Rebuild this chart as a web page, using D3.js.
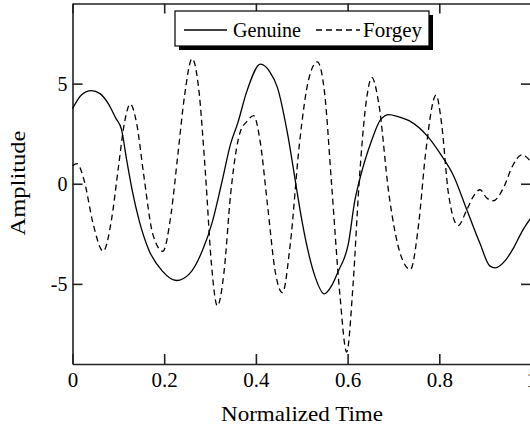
<!DOCTYPE html>
<html>
<head>
<meta charset="utf-8">
<script src="https://cdn.jsdelivr.net/npm/d3@7"></script>
<style>
body { margin: 0; background: #fff; }
svg text { font-family: "Liberation Serif", "DejaVu Serif", serif !important; fill: #000; }
</style>
</head>
<body>
<script>
// size of the page
var w = 530;
var h = 426;
var serif = '"Liberation Serif", "DejaVu Serif", serif';

// data
var genuineT = [0, 0.02, 0.041, 0.06, 0.078, 0.095, 0.107, 0.118, 0.13, 0.145, 0.166, 0.196, 0.227, 0.255,
                0.284, 0.305, 0.325, 0.345, 0.36, 0.38, 0.41, 0.43, 0.447, 0.469, 0.487, 0.497, 0.513,
                0.53, 0.549, 0.565, 0.579, 0.602, 0.616, 0.624, 0.653, 0.672, 0.69, 0.71, 0.734, 0.775,
                0.802, 0.831, 0.86, 0.889, 0.91, 0.922, 0.945, 0.962, 0.98, 1.0];
var genuineV = [3.75, 4.45, 4.65, 4.5, 4.0, 3.25, 2.7, 1.2, -0.3, -1.8, -3.28, -4.36, -4.83, -4.5,
                -3.3, -1.9, 0, 2.0, 3.0, 4.6, 5.97, 5.6, 4.8, 2.5, 0, -1.4, -3.28,
                -4.7, -5.5, -5.1, -4.4, -2.95, -0.8, 0, 2.2, 3.2, 3.45, 3.35, 3.15, 2.35,
                1.5, 0.4, -1.3, -3.0, -4.1, -4.2, -3.8, -3.2, -2.4, -1.7];

var forgeyT = [0, 0.01, 0.025, 0.045, 0.067, 0.085, 0.1, 0.113, 0.126, 0.14, 0.155, 0.175, 0.197, 0.215,
               0.23, 0.245, 0.261, 0.275, 0.29, 0.303, 0.316, 0.33, 0.345, 0.358, 0.366, 0.38, 0.395,
               0.41, 0.425, 0.443, 0.458, 0.475, 0.495, 0.515, 0.534, 0.55, 0.565, 0.583, 0.598, 0.612,
               0.625, 0.64, 0.653, 0.668, 0.69, 0.715, 0.737, 0.755, 0.77, 0.793, 0.805, 0.82, 0.841,
               0.86, 0.875, 0.889, 0.903, 0.918, 0.94, 0.96, 0.98, 1.0];
var forgeyV = [0.9, 1.0, 0.2, -2.0, -3.37, -1.8, 0.8, 3.0, 3.98, 3.0, 0.5, -2.5, -3.37, -1.5,
               1.5, 4.5, 6.25, 4.8, 0.5, -4.0, -6.1, -4.5, -0.5, 1.8, 2.6, 3.1, 3.4,
               2.0, -1.0, -4.5, -5.44, -3.0, 2.0, 5.2, 6.09, 4.5, 0, -5.5, -8.4, -5.0,
               0, 4.0, 5.3, 4.0, -0.5, -3.5, -4.28, -2.0, 1.5, 4.43, 3.0, -0.5, -2.09,
               -1.3, -0.6, -0.3, -0.7, -0.85, -0.2, 0.9, 1.44, 1.1];

var xTicks = [0, 0.2, 0.4, 0.6, 0.8, 1];
var yTicks = [-5, 0, 5];

var svg = d3.select('body')
    .append('svg')
    .attr('width', w)
    .attr('height', h)
    .attr('font-family', serif);

var x = d3.scaleLinear()
    .domain([0, 1])
    .range([72.5, 531]);

var y = d3.scaleLinear()
    .domain([-9, 9])
    .range([364, 3.5]);

// axes, ticks point inward
var bottom = svg.append('g')
    .attr('transform', 'translate(0,' + y(-9) + ')')
    .call(d3.axisBottom(x).tickValues(xTicks).tickSize(-10).tickSizeOuter(0)
        .tickPadding(8).tickFormat(d => String(d)));

var top = svg.append('g')
    .attr('transform', 'translate(0,' + y(9) + ')')
    .call(d3.axisTop(x).tickValues(xTicks).tickSize(-10).tickSizeOuter(0).tickFormat(''));

var left = svg.append('g')
    .attr('transform', 'translate(' + x(0) + ',0)')
    .call(d3.axisLeft(y).tickValues(yTicks).tickSize(-10).tickSizeOuter(0)
        .tickPadding(5).tickFormat(d => String(d)));

var right = svg.append('g')
    .attr('transform', 'translate(' + x(1) + ',0)')
    .call(d3.axisRight(y).tickValues(yTicks).tickSize(-10).tickSizeOuter(0).tickFormat(''));

svg.selectAll('g').attr('font-family', serif);

svg.selectAll('.domain, .tick line')
    .attr('stroke', '#222')
    .attr('stroke-width', 1.6);

bottom.selectAll('text')
    .attr('font-family', serif)
    .attr('font-size', '21px')
    .attr('fill', '#000');

left.selectAll('text')
    .attr('font-family', serif)
    .attr('font-size', '20px')
    .attr('fill', '#000');

// curves
var line = d3.line()
    .x(d => x(d[0]))
    .y(d => y(d[1]))
    .curve(d3.curveMonotoneX);

svg.append('path')
    .datum(genuineT.map((t, i) => [t, genuineV[i]]))
    .attr('d', line)
    .attr('fill', 'none')
    .attr('stroke', '#000')
    .attr('stroke-width', 1.3);

svg.append('path')
    .datum(forgeyT.map((t, i) => [t, forgeyV[i]]))
    .attr('d', line)
    .attr('fill', 'none')
    .attr('stroke', '#000')
    .attr('stroke-width', 1.3)
    .attr('stroke-dasharray', '6,4');

// axis titles
svg.append('text')
    .text('Normalized Time')
    .attr('x', 302)
    .attr('y', 421)
    .attr('text-anchor', 'middle')
    .attr('font-family', serif)
    .attr('font-size', '21px')
    .attr('textLength', 162)
    .attr('lengthAdjust', 'spacingAndGlyphs');

svg.append('text')
    .text('Amplitude')
    .attr('transform', 'translate(25,183) rotate(-90)')
    .attr('text-anchor', 'middle')
    .attr('font-family', serif)
    .attr('font-size', '21px')
    .attr('textLength', 105)
    .attr('lengthAdjust', 'spacingAndGlyphs');

// legend box with shadow
svg.append('rect')
    .attr('x', 179).attr('y', 15)
    .attr('width', 254).attr('height', 35)
    .attr('fill', '#000');

svg.append('rect')
    .attr('x', 175).attr('y', 11)
    .attr('width', 254).attr('height', 35)
    .attr('fill', '#fff')
    .attr('stroke', '#000')
    .attr('stroke-width', 1.2);

svg.append('line')
    .attr('x1', 184).attr('x2', 227)
    .attr('y1', 30).attr('y2', 30)
    .attr('stroke', '#000')
    .attr('stroke-width', 1.3);

svg.append('line')
    .attr('x1', 316).attr('x2', 360)
    .attr('y1', 30).attr('y2', 30)
    .attr('stroke', '#000')
    .attr('stroke-width', 1.3)
    .attr('stroke-dasharray', '6,4');

svg.append('text')
    .text('Genuine')
    .attr('x', 233).attr('y', 37)
    .attr('font-family', serif)
    .attr('font-size', '20px')
    .attr('textLength', 68)
    .attr('lengthAdjust', 'spacingAndGlyphs');

svg.append('text')
    .text('Forgey')
    .attr('x', 363).attr('y', 37)
    .attr('font-family', serif)
    .attr('font-size', '20px')
    .attr('textLength', 59)
    .attr('lengthAdjust', 'spacingAndGlyphs');
</script>
</body>
</html>
